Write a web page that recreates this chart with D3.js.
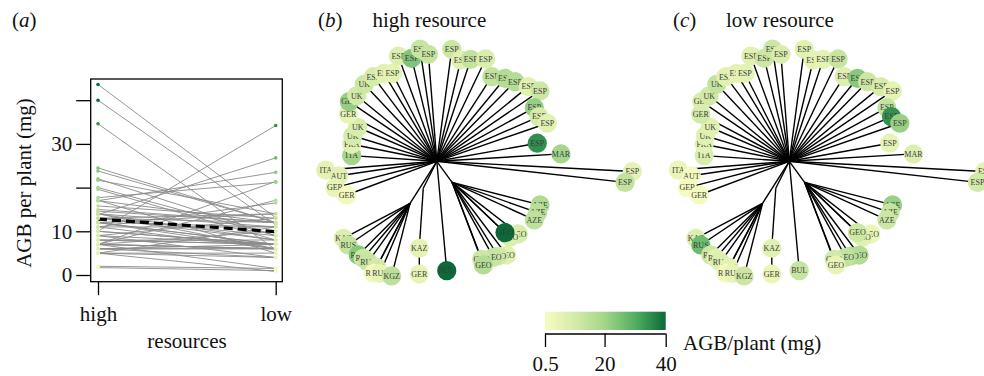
<!DOCTYPE html>
<html>
<head>
<meta charset="utf-8">
<script src="https://cdn.jsdelivr.net/npm/d3@7"></script>
<style>
  body { margin: 0; background: #fff; }
  svg { display: block; font-family: "Liberation Serif", "Times New Roman", serif; }
</style>
</head>
<body>
<svg id="chart" width="984" height="376"></svg>
<script>
// tips of the genotype tree (angle in degrees, clockwise from east; dist = branch distance from root)
const tipLabels = ['ITA','FRA','UK','UK','GER','GER','UK','UK','ESP','ESP',
  'ESP','ESP','ESP','ESP','ESP','ESP','ESP','ESP','ESP','ESP',
  'ESP','ESP','ESP','ESP','ESP','ESP','ESP','ESP','MAR','ESP','ESP',
  'AZE','AZE','AZE','GEO','GEO','GEO','GEO','GEO','GEO','GEO','GEO',
  'BUL','KAZ','GER',
  'KAZ','RUS','RUS','RUS','RUS','RUS','RUS','RUS','KGZ',
  'ITA','AUT','GER','GER'];
const tipAngle = [183.8,191.3,196.9,203.3,208.0,214.3,219.3,226.7,233.1,239.0,
  243.2,249.9,256.3,261.5,265.5,277.6,283.3,288.4,295.5,303.0,
  309.4,314.5,320.8,325.7,331.2,336.4,341.0,349.8,356.6,3.0,6.4,
  22.9,27.0,31.0,41.7,46.1,46.3,53.3,57.1,59.5,65.4,65.8,
  84.8,101.4,98.8,
  140.5,136.6,130.0,127.2,124.3,119.6,119.6,116.9,111.5,
  175.5,171.6,165.5,159.5];
const tipDist = [85.3,86.8,87.9,86.1,100.2,105.9,103.5,105.8,105.8,102.6,
  98.6,112.1,106.0,113.5,107.3,113.0,104.1,107.5,113.4,100.9,
  107.4,111.6,118.1,124.9,111.3,111.5,116.9,102.1,124.4,195.8,189.4,
  112.1,113.2,113.8,109.2,105.5,98.7,116.9,112.8,111.4,107.8,113.6,
  109.8,88.7,114.1,
  121.1,121.8,122.2,121.7,122.0,121.9,128.7,125.6,123.2,
  111.4,98.9,105.2,96.2];
const tipParent = ['root','root','root','root','root','root','root','root','root','root',
  'root','root','root','root','root','root','root','root','root','root',
  'root','root','root','root','root','root','root','root','root','root','root',
  'caucasus','caucasus','caucasus','caucasus','caucasus','caucasus','caucasus','caucasus','caucasus','caucasus','caucasus',
  'root','kaz','tip43',
  'asia','asia','asia','asia','asia','asia','asia','asia','asia',
  'root','root','root','root'];

// internal nodes
const nodeNames = ['caucasus','kaz','asia'];
const nodeAngle = [54.0,116.6,122.5];
const nodeDist = [26.0,30.2,49.8];

// aboveground biomass per plant (mg) for each genotype
const agbHigh = [20,7,10,9,5,22,11,12,10,7,
  6,8,24.5,13,13,12,7,14,9,14,
  17,17,7,12,21.7,10,7,34.6,19.6,6,14,
  17.7,15.8,14.6,9,8,40,7,11,13,12,17.1,
  43.6,6,5,
  8,13.8,23.8,12,13,11,2,5,15,
  6,7,5,1.7];
const agbLow = [9,6,7,7,11,9,11,14,7,6,
  6,7,12,12,9,7,6,6,13,8,
  23.5,12,10,6,14,34.2,21.4,5.8,8,6,11,
  21.2,13,12,4,7,11.5,17.1,16.5,14,11,5,
  13.1,7,4,
  8,26.8,12,7,8,6,1.5,5,12,
  4,1.5,0.8,1];

const resourceLevels = ['high', 'low'];
const yTicks = [0, 10, 20, 30, 40];
const yTickLabels = ['0', '10', '', '30', ''];
const colorTicks = [0.5, 20, 40];
const colorStops = [0.5, 10, 20, 30, 40];
const colorRange = ['#f7fbc0', '#d6ecaa', '#a4d58b', '#52af62', '#0b6a38'];

const svg = d3.select('#chart');
const color = d3.scaleLinear().domain(colorStops).range(colorRange).clamp(true);

// strip d3's default axis font so the serif face is inherited
function styleAxis(ax) {
  ax.attr('font-family', null).attr('font-size', null);
  ax.selectAll('line').attr('stroke-width', 1.3);
  ax.selectAll('text').attr('font-size', 21).attr('fill', '#111');
}

// ---------- panel (a) ----------
const x = d3.scalePoint().domain(resourceLevels).range([98, 275.7]);
const y = d3.scaleLinear().domain([0, 40]).range([275, 100.2]);
const pa = svg.append('g');

pa.append('rect')
  .attr('x', 90.7).attr('y', 79).attr('width', 191.6).attr('height', 202.7)
  .attr('fill', 'none').attr('stroke', '#000').attr('stroke-width', 1.3);

const yAxis = pa.append('g')
  .attr('transform', 'translate(90.7,0)')
  .call(d3.axisLeft(y).tickValues(yTicks).tickSize(14.5).tickPadding(4)
    .tickFormat((d, i) => yTickLabels[i]));
yAxis.select('.domain').remove();
styleAxis(yAxis);

const xAxis = pa.append('g')
  .attr('transform', 'translate(0,281.7)')
  .call(d3.axisBottom(x).tickSize(13.5).tickPadding(11));
xAxis.select('.domain').remove();
styleAxis(xAxis);

pa.selectAll('.pair').data(agbHigh).enter().append('line')
  .attr('x1', x('high')).attr('y1', d => y(d))
  .attr('x2', x('low')).attr('y2', (d, i) => y(agbLow[i]))
  .attr('stroke', '#8a8a8a').attr('stroke-width', 0.9);

pa.append('line')
  .attr('x1', x('high')).attr('y1', y(d3.mean(agbHigh)))
  .attr('x2', x('low')).attr('y2', y(d3.mean(agbLow)))
  .attr('stroke', '#000').attr('stroke-width', 3.2).attr('stroke-dasharray', '9,5');

pa.selectAll('.dh').data(agbHigh).enter().append('circle')
  .attr('cx', x('high')).attr('cy', d => y(d)).attr('r', 1.8).attr('fill', d => color(d));
pa.selectAll('.dl').data(agbLow).enter().append('circle')
  .attr('cx', x('low')).attr('cy', d => y(d)).attr('r', 1.8).attr('fill', d => color(d));

pa.append('text').attr('transform', 'translate(31,183) rotate(-90)')
  .attr('text-anchor', 'middle').attr('font-size', 21).attr('fill', '#111')
  .text('AGB per plant (mg)');
pa.append('text').attr('x', 187).attr('y', 347.5)
  .attr('text-anchor', 'middle').attr('font-size', 21).attr('fill', '#111')
  .text('resources');

function panelTitle(xPos, letter, name, nameX) {
  const t = svg.append('text').attr('x', xPos).attr('y', 27).attr('font-size', 21).attr('fill', '#111');
  t.append('tspan').text('(');
  t.append('tspan').attr('font-style', 'italic').text(letter);
  t.append('tspan').text(')');
  if (name) svg.append('text').attr('x', nameX).attr('y', 27).attr('font-size', 21).attr('fill', '#111').text(name);
}
panelTitle(12, 'a');
panelTitle(318, 'b', 'high resource', 372.5);
panelTitle(673, 'c', 'low resource', 726);

// ---------- panels (b) and (c): trees ----------
const angle = d3.scaleLinear().domain([0, 360]).range([Math.PI / 2, Math.PI / 2 + 2 * Math.PI]);
const radius = d3.scaleLinear().domain([0, 200]).range([0, 200]);

function nodePos(name) {
  if (name === 'root') return [0, 0];
  if (name.startsWith('tip')) {
    const k = +name.slice(3);
    return d3.pointRadial(angle(tipAngle[k]), radius(tipDist[k]));
  }
  const j = nodeNames.indexOf(name);
  return d3.pointRadial(angle(nodeAngle[j]), radius(nodeDist[j]));
}

function drawTree(cx, cy, values) {
  const g = svg.append('g').attr('transform', `translate(${cx},${cy})`);
  nodeNames.forEach(n => {
    const p = nodePos(n);
    g.append('line').attr('x1', 0).attr('y1', 0).attr('x2', p[0]).attr('y2', p[1])
      .attr('stroke', '#000').attr('stroke-width', 1.4);
  });
  tipLabels.forEach((lab, i) => {
    const a = nodePos(tipParent[i]);
    const b = nodePos('tip' + i);
    g.append('line').attr('x1', a[0]).attr('y1', a[1]).attr('x2', b[0]).attr('y2', b[1])
      .attr('stroke', '#000').attr('stroke-width', 1.4);
  });
  tipLabels.forEach((lab, i) => {
    const p = nodePos('tip' + i);
    g.append('circle').attr('cx', p[0]).attr('cy', p[1]).attr('r', 9.6)
      .attr('fill', color(values[i]));
    g.append('text').attr('x', p[0]).attr('y', p[1]).attr('dy', '0.35em')
      .attr('text-anchor', 'middle').attr('font-size', 8).attr('fill', '#3c3c3c')
      .text(lab);
  });
}
drawTree(436.8, 161.3, agbHigh);
drawTree(789.3, 161.3, agbLow);

// ---------- colour bar ----------
const cb = d3.scaleLinear().domain([0.5, 40]).range([545, 665.7]);
const grad = svg.append('defs').append('linearGradient').attr('id', 'agbGrad');
colorStops.forEach(v => {
  grad.append('stop').attr('offset', (v - 0.5) / 39.5).attr('stop-color', color(v));
});
svg.append('rect').attr('x', cb(0.5)).attr('y', 311.7)
  .attr('width', cb(40) - cb(0.5)).attr('height', 18.3).attr('fill', 'url(#agbGrad)');
const cbAxis = svg.append('g').attr('transform', 'translate(0,333.5)')
  .call(d3.axisBottom(cb).tickValues(colorTicks).tickSize(13.5).tickPadding(9)
    .tickFormat(d => d === 0.5 ? '0.5' : d3.format('d')(d)));
cbAxis.select('.domain').attr('d', `M${cb(0.5)},0.5H${cb(40)}`).attr('stroke-width', 1.3);
styleAxis(cbAxis);
svg.append('text').attr('x', 683).attr('y', 350).attr('font-size', 21).attr('fill', '#111')
  .text('AGB/plant (mg)');
</script>
</body>
</html>
